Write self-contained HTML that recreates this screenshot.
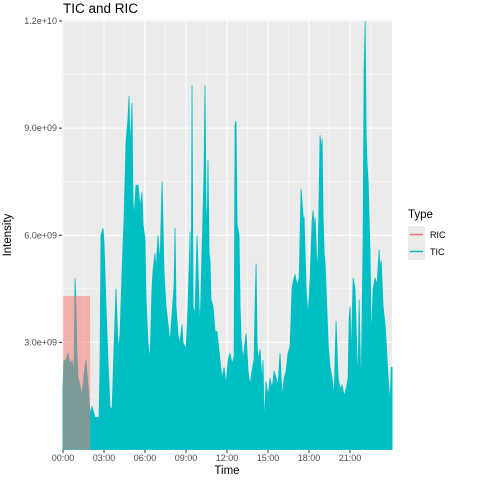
<!DOCTYPE html>
<html><head><meta charset="utf-8"><style>
html,body{margin:0;padding:0;background:#fff;}
svg{display:block;font-family:"Liberation Sans",sans-serif;}
</style></head><body>
<svg id="chart" width="480" height="480" xmlns="http://www.w3.org/2000/svg">
<text x="63" y="13" font-size="13.5" fill="#000">TIC and RIC</text>
<rect x="62" y="20" width="330" height="430" fill="#EBEBEB"/>
<g id="grid"></g>
<g id="marks"></g>
<g id="axes"></g>
<text x="227" y="474" font-size="11.5" text-anchor="middle" fill="#000">Time</text>
<text transform="translate(11,235) rotate(-90)" font-size="11.5" text-anchor="middle" fill="#000">Intensity</text>
<g>
<text x="408" y="218" font-size="11.5" fill="#000">Type</text>
<g>
<rect x="408" y="226" width="17" height="17" fill="#EBEBEB"/>
<line x1="410" y1="234.5" x2="423" y2="234.5" stroke="#F8766D" stroke-width="1.5"/>
<text x="430" y="238" font-size="9" fill="#000">RIC</text></g>
<g>
<rect x="408" y="243" width="17" height="17" fill="#EBEBEB"/>
<line x1="410" y1="251.5" x2="423" y2="251.5" stroke="#00BFC4" stroke-width="1.5"/>
<text x="430" y="255" font-size="9" fill="#000">TIC</text></g>
</g>
</svg>
<script>
const xTickLabels = ["00:00","03:00","06:00","09:00","12:00","15:00","18:00","21:00"];
const xTickHours = [0,3,6,9,12,15,18,21];
const yTickLabels = ["3.0e+09","6.0e+09","9.0e+09","1.2e+10"];
const yTickValues = [3e9,6e9,9e9,12e9];
const ricHours = [0,0.01,1.98,1.99];
const ricValues = [0,4.3e9,4.3e9,0];
const ticHours = [0,0.07,0.22,0.37,0.51,0.66,0.81,0.88,0.95,1.02,1.10,1.24,1.39,1.54,1.68,1.83,1.98,2.12,2.34,2.49,2.64,2.71,2.78,2.93,3.0,3.15,3.29,3.44,3.59,3.73,3.88,4.03,4.17,4.32,4.47,4.61,4.76,4.83,4.90,4.98,5.05,5.12,5.20,5.34,5.49,5.64,5.78,5.86,6.00,6.08,6.22,6.37,6.51,6.59,6.73,6.81,6.95,7.10,7.25,7.39,7.54,7.69,7.83,7.98,8.13,8.20,8.27,8.42,8.56,8.71,8.78,9.00,9.15,9.30,9.37,9.44,9.52,9.66,9.81,9.96,10.03,10.17,10.32,10.39,10.47,10.54,10.61,10.69,10.76,10.83,10.98,11.13,11.27,11.49,11.64,11.79,11.93,12.08,12.22,12.37,12.52,12.59,12.66,12.74,12.88,12.96,13.03,13.18,13.32,13.40,13.54,13.69,13.83,13.98,14.05,14.13,14.20,14.27,14.42,14.57,14.64,14.71,14.86,15.01,15.15,15.30,15.45,15.59,15.74,15.88,16.03,16.18,16.32,16.47,16.62,16.76,16.84,16.98,17.13,17.28,17.42,17.57,17.64,17.79,17.93,18.08,18.23,18.30,18.37,18.45,18.59,18.67,18.81,18.89,18.96,19.03,19.11,19.18,19.25,19.40,19.54,19.69,19.84,19.98,20.13,20.28,20.42,20.57,20.72,20.86,20.94,21.01,21.08,21.23,21.37,21.52,21.59,21.67,21.81,21.96,22.03,22.11,22.18,22.25,22.33,22.40,22.47,22.55,22.69,22.84,22.98,23.13,23.20,23.28,23.42,23.57,23.72,23.79,23.94,24.01,24.08];
const ticValues = [1.7,2.5,2.5,2.7,2.4,2.5,2.2,4.8,4.0,2.8,2.0,1.8,1.5,2.1,2.5,1.8,1.0,1.2,0.9,0.9,0.9,2.5,6.0,6.2,5.8,4.0,2.5,1.2,1.1,2.8,4.5,2.8,3.2,5.0,6.5,8.6,9.3,9.9,8.5,9.0,9.7,7.0,6.5,7.4,7.4,6.8,7.2,6.3,5.9,4.2,3.0,2.5,4.5,5.0,5.5,5.0,6.0,5.2,7.5,5.0,4.0,3.5,3.0,3.8,4.6,6.2,4.0,3.2,3.0,3.5,3.0,2.8,4.0,6.1,3.0,10.2,4.0,3.8,6.0,4.0,3.4,5.5,7.8,10.2,6.8,6.0,8.1,5.5,5.3,4.2,4.0,3.3,3.3,2.5,2.0,2.3,1.8,2.5,2.7,2.4,2.6,9.1,9.2,6.3,6.0,4.0,3.1,2.5,3.0,3.25,2.2,1.8,2.2,2.5,4.0,5.2,3.0,2.5,2.8,1.9,2.5,0.7,1.9,1.5,2.0,1.7,2.2,2.0,1.8,2.7,1.5,2.0,2.2,2.7,2.9,4.5,4.7,4.9,4.6,4.8,7.3,6.5,6.5,4.5,3.7,4.8,6.4,6.7,6.2,6.5,5.0,5.5,8.8,8.4,8.7,6.5,5.5,5.2,4.5,3.0,2.3,2.0,1.5,3.6,2.0,1.7,1.8,1.5,1.7,2.0,3.7,4.0,2.5,4.8,4.5,2.5,2.0,4.2,1.5,6.0,10.6,12.0,8.9,8.0,7.5,6.5,5.5,3.0,4.5,4.8,4.6,5.6,5.0,5.3,4.0,3.5,2.5,2.0,1.3,2.3,2.3].map(v=>v*1e9);

const NS="http://www.w3.org/2000/svg";
const X0=63, PXH=41/3, Y0=449.5, PXV=428.5/12e9;
const xs=h=>X0+h*PXH, ys=v=>Y0-v*PXV;
function mk(tag,attrs,parent){const e=document.createElementNS(NS,tag);for(const k in attrs)e.setAttribute(k,attrs[k]);parent.appendChild(e);return e;}
const grid=document.getElementById('grid'), marks=document.getElementById('marks'), axes=document.getElementById('axes');
// minor grid
for(let i=0;i<yTickValues.length;i++){const v=yTickValues[i]-1.5e9;
 const l=mk('line',{x1:62,x2:392,y1:ys(v),y2:ys(v),stroke:'#fff','stroke-width':0.5},grid);
 
 }
for(let i=0;i<xTickHours.length;i++){const h=xTickHours[i]+1.5;
 const l=mk('line',{x1:xs(h),x2:xs(h),y1:20,y2:450,stroke:'#fff','stroke-width':0.5},grid);
 
 }
yTickValues.forEach((v,i)=>{const y=ys(v);
 const l=mk('line',{x1:62,x2:392,y1:y,y2:y,stroke:'#fff','stroke-width':1.1},grid);
 
 
 mk('line',{x1:59,x2:62,y1:y,y2:y,stroke:'#333','stroke-width':1},axes);
 const t=mk('text',{x:57,y:y+3,'font-size':9,'text-anchor':'end',fill:'#4D4D4D'},axes);
 t.textContent=yTickLabels[i];
 
 });
xTickHours.forEach((h,i)=>{const x=xs(h);
 const l=mk('line',{x1:x,x2:x,y1:20,y2:450,stroke:'#fff','stroke-width':1.1},grid);
 
 
 mk('line',{x1:x,x2:x,y1:450,y2:453,stroke:'#333','stroke-width':1},axes);
 const t=mk('text',{x:x,y:461,'font-size':9,'text-anchor':'middle',fill:'#4D4D4D'},axes);
 t.textContent=xTickLabels[i];
 
 });
// TIC area
let d='M'+xs(ticHours[0])+','+ys(0);
ticHours.forEach((h,i)=>{d+='L'+xs(h).toFixed(2)+','+ys(ticValues[i]).toFixed(2);});
d+='L'+xs(ticHours[ticHours.length-1])+','+ys(0)+'Z';
const tic=mk('path',{d:d,fill:'#00BFC4',stroke:'#00BFC4','stroke-width':0.8,'stroke-linejoin':'miter'},marks);


// RIC area
let r='M'+xs(ricHours[0])+','+ys(ricValues[0]);
ricHours.forEach((h,i)=>{r+='L'+xs(h).toFixed(2)+','+ys(ricValues[i]).toFixed(2);});
r+='Z';
const ric=mk('path',{d:r,fill:'#F8766D','fill-opacity':0.5},marks);


</script>
</body></html>
